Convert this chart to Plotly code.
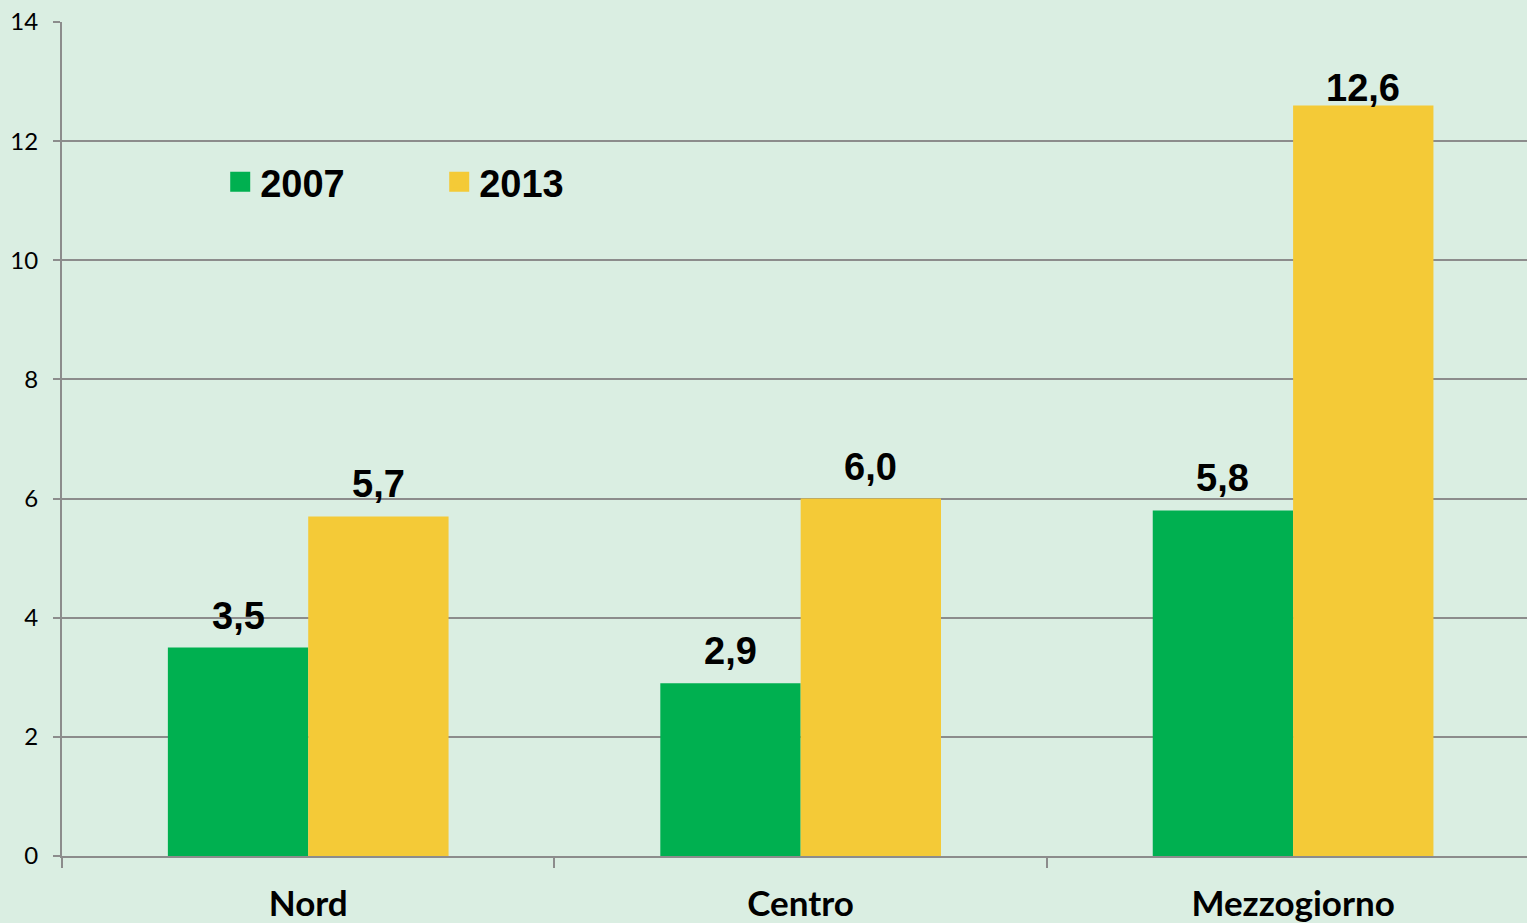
import plotly.graph_objects as go

categories = ["Nord", "Centro", "Mezzogiorno"]
years = ["2007", "2013"]
values_2007 = [3.5, 2.9, 5.8]
values_2013 = [5.7, 6.0, 12.6]
y_ticks = [0, 2, 4, 6, 8, 10, 12, 14]

colors = {"2007": "#00B050", "2013": "#F4CA37"}
label_font = dict(family="Liberation Sans, Arial, sans-serif", size=38, color="black")

BAR_W = 0.285
PX_PER_CAT = 492.5
PX_PER_UNIT = 834 / 14
LABEL_MAX_Y = 12.36  # labels above this value are kept closer to the bar (stay inside chart)

fig = go.Figure()
series = [values_2007, values_2013]
offsets = [-BAR_W, 0.0]
for name, vals, off in zip(years, series, offsets):
    fig.add_trace(go.Bar(
        x=categories, y=vals, name=name, showlegend=False,
        width=BAR_W, offset=off,
        marker=dict(color=colors[name], line=dict(width=0)),
    ))
    # data labels centred over each bar
    for cat, v in zip(categories, vals):
        shift = 9 - max(0.0, (v - LABEL_MAX_Y) * PX_PER_UNIT)
        fig.add_annotation(
            x=cat, y=v, text="<b>" + f"{v:.1f}".replace(".", ",") + "</b>",
            showarrow=False, yanchor="bottom", xanchor="center",
            xshift=(off + BAR_W / 2) * PX_PER_CAT, yshift=shift,
            font=label_font,
        )
# legend entries (square swatches)
for name in years:
    fig.add_trace(go.Scatter(
        x=[None], y=[None], mode="markers", name=name,
        marker=dict(symbol="square", size=16, color=colors[name],
                    line=dict(width=4, color=colors[name])),
    ))

fig.update_layout(
    width=1527, height=923,
    margin=dict(l=62, r=0, t=22, b=67, autoexpand=False),
    paper_bgcolor="#DAEEE2", plot_bgcolor="#DAEEE2",
    barmode="overlay",
    showlegend=True,
    hovermode=False,
    legend=dict(
        orientation="h", x=0.108, y=0.808, xanchor="left", yanchor="middle",
        font=dict(family="Liberation Sans, Arial, sans-serif", size=38, color="black", weight="bold"),
        bgcolor="rgba(0,0,0,0)", entrywidth=174, entrywidthmode="pixels",
        itemclick=False, itemwidth=30,
    ),
    xaxis=dict(
        range=[-0.5, 2.475], showgrid=False,
        showline=True, linecolor="#8C8C8C", linewidth=2,
        ticks="outside", tickson="boundaries", ticklen=10, tickwidth=2, tickcolor="#8C8C8C",
        tickfont=dict(family="Lato, sans-serif", size=35, color="black", weight="bold"),
        ticklabelstandoff=16,
    ),
    yaxis=dict(
        range=[0, 14], tickvals=y_ticks,
        showgrid=True, gridcolor="#8C8C8C", gridwidth=1.5,
        showline=True, linecolor="#8C8C8C", linewidth=2,
        ticks="outside", ticklen=7, tickwidth=2, tickcolor="#8C8C8C",
        tickfont=dict(family="Lato, sans-serif", size=24, color="black"),
        ticklabelstandoff=10, zeroline=False,
    ),
)

fig.write_html("out.html", config={"displayModeBar": False},
               post_script="document.body.style.margin='0';")
